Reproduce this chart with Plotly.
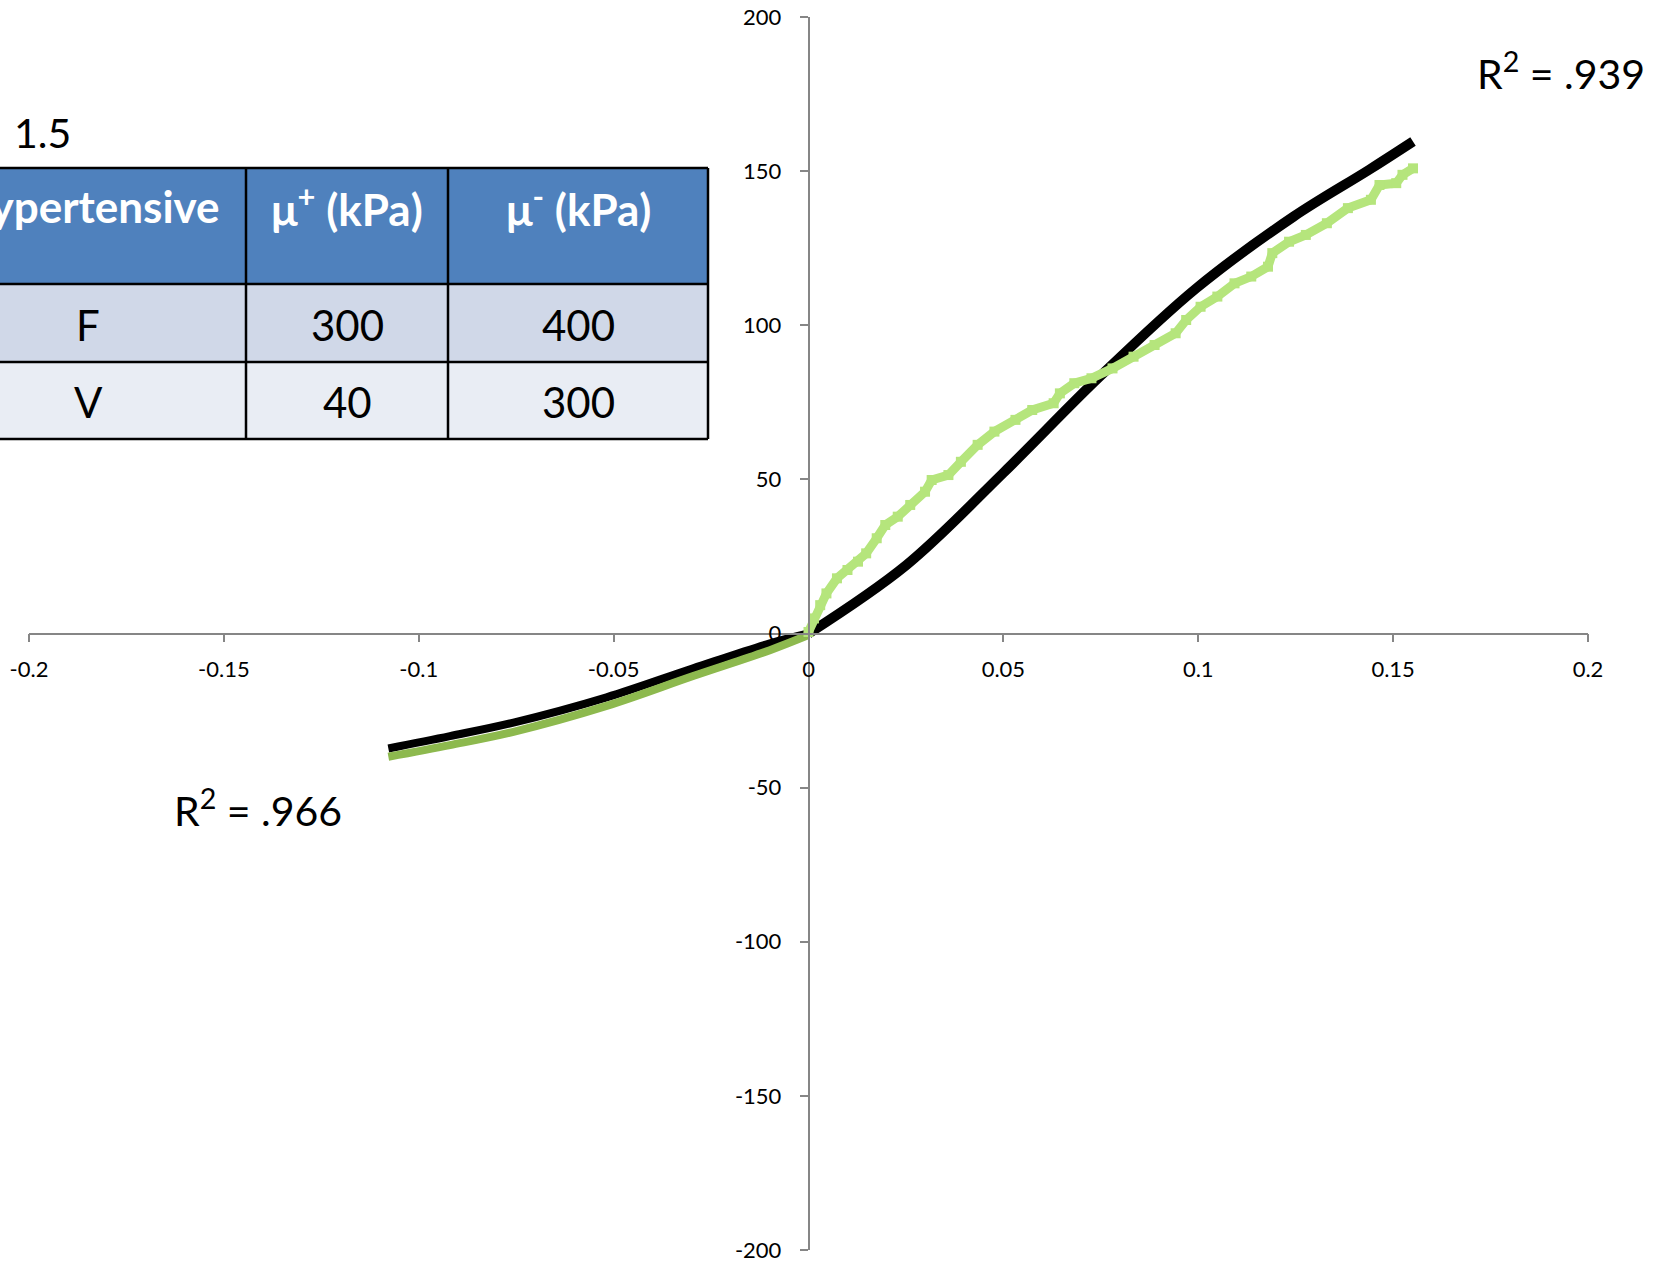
import plotly.graph_objects as go

# ---- data ----------------------------------------------------------------
# model fit, tension side
fit_pos_x = [0.0, 0.0251, 0.0499, 0.0747, 0.0995, 0.1244, 0.1438, 0.1551]
fit_pos_y = [0.0, 22.2, 52.0, 83.3, 112.0, 135.2, 150.4, 159.6]

# model fit, compression side
fit_neg_x = [-0.1078, -0.0920, -0.0757, -0.0518, -0.0296, -0.0099, 0.0]
fit_neg_y = [-37.3, -33.3, -28.9, -20.7, -11.3, -3.2, 0.0]

# measured, tension side
meas_pos_x = [0.0, 0.0014, 0.0030, 0.0046, 0.0073, 0.0100, 0.0127, 0.0148,
              0.0175, 0.0197, 0.0229, 0.0261, 0.0299, 0.0316, 0.0359, 0.0391,
              0.0434, 0.0477, 0.0531, 0.0574, 0.0629, 0.0645, 0.0682, 0.0726,
              0.0780, 0.0834, 0.0888, 0.0942, 0.0969, 0.1006, 0.1049, 0.1093,
              0.1136, 0.1179, 0.1190, 0.1233, 0.1276, 0.1330, 0.1384, 0.1443,
              0.1465, 0.1508, 0.1524, 0.1551]
meas_pos_y = [0.5, 4.9, 9.2, 13.0, 17.9, 20.6, 23.3, 26.0,
              30.9, 35.2, 37.9, 41.7, 46.0, 49.8, 51.4, 55.7,
              61.2, 65.5, 69.3, 72.5, 74.7, 77.9, 81.2, 82.8,
              86.0, 89.8, 93.6, 97.4, 101.7, 106.0, 109.3, 113.6,
              115.8, 119.0, 123.4, 127.1, 129.3, 133.1, 138.0, 140.7,
              145.5, 146.1, 148.8, 150.9]

# measured, compression side
meas_neg_x = [-0.1078, -0.0920, -0.0757, -0.0518, -0.0296, -0.0099, 0.0]
meas_neg_y = [-40.0, -36.2, -31.9, -23.5, -13.8, -5.4, -0.5]

# axis ticks
x_tickvals = [-0.2, -0.15, -0.1, -0.05, 0, 0.05, 0.1, 0.15, 0.2]
x_ticktext = ["-0.2", "-0.15", "-0.1", "-0.05", "0", "0.05", "0.1", "0.15", "0.2"]
y_tickvals = [-200, -150, -100, -50, 0, 50, 100, 150, 200]
y_ticktext = ["-200", "-150", "-100", "-50", "0", "50", "100", "150", "200"]

# parameter table
table_header = ["Hypertensive", "μ<sup>+</sup> (kPa)", "μ<sup>-</sup> (kPa)"]
table_rows = ["F", "V"]
mu_plus = [300, 40]
mu_minus = [400, 300]

r2_tension = ".939"
r2_compression = ".966"
beta_label = "1.5"

# ---- layout geometry (pixels) --------------------------------------------
W, H = 1660, 1263
PL, PR, PT, PB = 29, 1588, 17, 1250


def px_x(p):
    return (p - PL) / (PR - PL)


def px_y(p):
    return (PB - p) / (PB - PT)


FONT = "Lato, 'Open Sans', sans-serif"
AXIS_GRAY = "#868686"

fig = go.Figure()

fig.add_trace(go.Scatter(x=fit_neg_x, y=fit_neg_y, mode="lines",
                         line=dict(color="black", width=8, shape="spline"),
                         showlegend=False))
fig.add_trace(go.Scatter(x=fit_pos_x, y=fit_pos_y, mode="lines",
                         line=dict(color="black", width=10, shape="spline"),
                         showlegend=False))
fig.add_trace(go.Scatter(x=meas_neg_x, y=meas_neg_y, mode="lines",
                         line=dict(color="#8DB94E", width=8, shape="spline"),
                         showlegend=False))
fig.add_trace(go.Scatter(x=meas_pos_x, y=meas_pos_y, mode="lines+markers",
                         line=dict(color="#B5E57C", width=9),
                         marker=dict(symbol="square", size=10, color="#B5E57C"),
                         showlegend=False))

axis_common = dict(showline=True, linecolor=AXIS_GRAY, linewidth=1.5,
                   ticks="outside", ticklen=8, tickwidth=1.5, tickcolor=AXIS_GRAY,
                   showgrid=False, zeroline=False, anchor="free", position=0.5,
                   automargin=False,
                   tickfont=dict(family=FONT, size=22, color="black"))

fig.update_layout(
    width=W, height=H,
    margin=dict(l=PL, r=W - PR, t=PT, b=H - PB, autoexpand=False),
    paper_bgcolor="white", plot_bgcolor="white",
    xaxis=dict(range=[-0.2, 0.2], tickvals=x_tickvals, ticktext=x_ticktext,
               ticklabelstandoff=8, **axis_common),
    yaxis=dict(range=[-200, 200], tickvals=y_tickvals, ticktext=y_ticktext,
               ticklabelstandoff=14, **axis_common),
)

# ---- table ---------------------------------------------------------------
col_edges = [-90, 246, 448, 708]
row_edges = [168, 284, 362, 439]
row_fills = ["#4F81BD", "#D0D8E8", "#E9EDF4"]
shapes = []
for r in range(3):
    shapes.append(dict(type="rect", xref="paper", yref="paper",
                       x0=px_x(col_edges[0]), x1=px_x(col_edges[-1]),
                       y0=px_y(row_edges[r + 1]), y1=px_y(row_edges[r]),
                       fillcolor=row_fills[r], line=dict(width=0), layer="below"))
for yy in row_edges:
    shapes.append(dict(type="line", xref="paper", yref="paper",
                       x0=px_x(col_edges[0]), x1=px_x(col_edges[-1]),
                       y0=px_y(yy), y1=px_y(yy), line=dict(color="black", width=2.5)))
for xx in col_edges:
    shapes.append(dict(type="line", xref="paper", yref="paper",
                       x0=px_x(xx), x1=px_x(xx),
                       y0=px_y(row_edges[0]), y1=px_y(row_edges[-1]),
                       line=dict(color="black", width=2.5)))
fig.update_layout(shapes=shapes)

col_centers = [88, 347, 578]
annotations = []
for c, txt in enumerate(table_header):
    annotations.append(dict(text=txt, x=px_x(col_centers[c]), y=px_y(206),
                            xref="paper", yref="paper", showarrow=False,
                            xanchor="center", yanchor="middle",
                            font=dict(family=FONT, size=44, color="white", weight="bold")))
row_centers = [325, 402]
for r, lab in enumerate(table_rows):
    for c, txt in enumerate([lab, str(mu_plus[r]), str(mu_minus[r])]):
        annotations.append(dict(text=txt, x=px_x(col_centers[c]), y=px_y(row_centers[r]),
                                xref="paper", yref="paper", showarrow=False,
                                xanchor="center", yanchor="middle",
                                font=dict(family=FONT, size=42, color="black")))

annotations.append(dict(text=beta_label, x=px_x(12), y=px_y(132), xref="paper", yref="paper",
                        showarrow=False, xanchor="left", yanchor="middle",
                        font=dict(family=FONT, size=41, color="black")))
annotations.append(dict(text="R<sup>2</sup> = " + r2_tension, x=px_x(1561), y=px_y(71),
                        xref="paper", yref="paper", showarrow=False,
                        xanchor="center", yanchor="middle",
                        font=dict(family=FONT, size=41, color="black")))
annotations.append(dict(text="R<sup>2</sup> = " + r2_compression, x=px_x(258), y=px_y(808),
                        xref="paper", yref="paper", showarrow=False,
                        xanchor="center", yanchor="middle",
                        font=dict(family=FONT, size=41, color="black")))
fig.update_layout(annotations=annotations)

fig.write_html("out.html")
